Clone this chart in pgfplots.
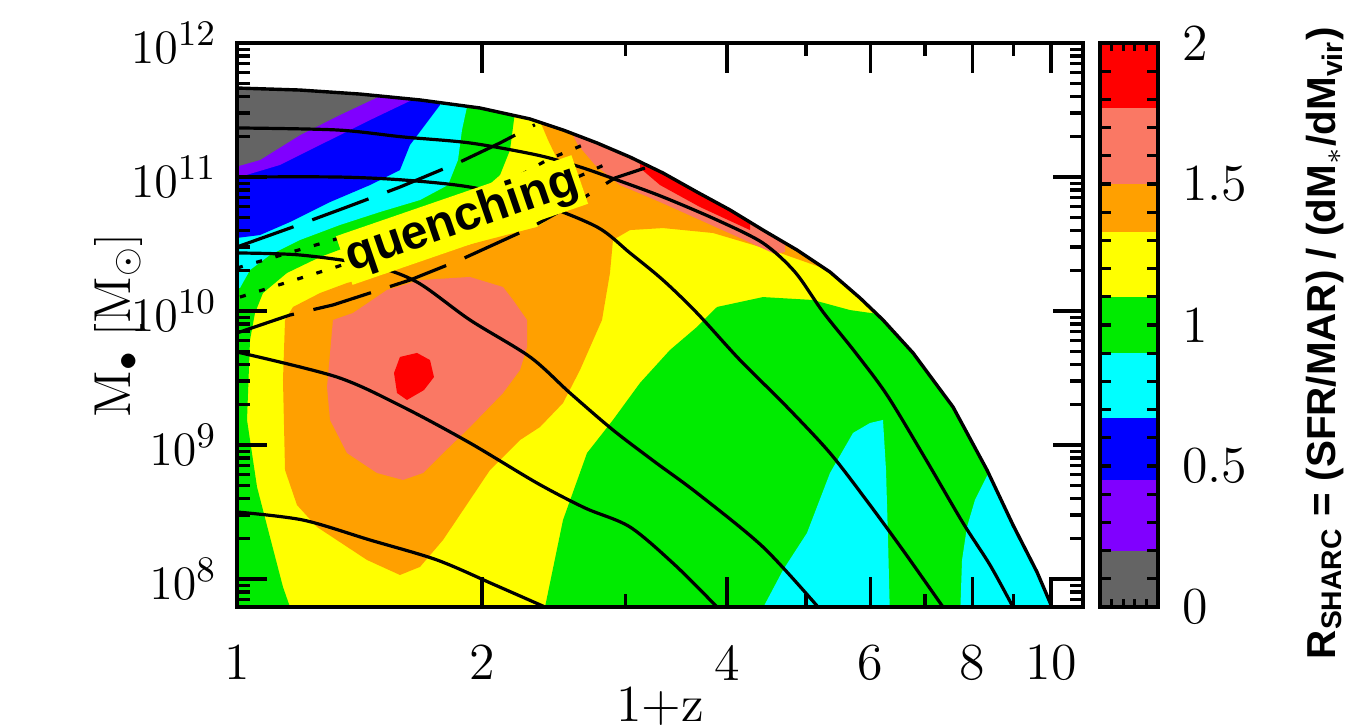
\documentclass[border=0pt]{standalone}
\usepackage{fontspec}
\usepackage{pgfplots}
\pgfplotsset{compat=1.18}
\newfontfamily\hv{Liberation Sans}
\definecolor{cgray}{RGB}{100,100,100}
\definecolor{cpurple}{RGB}{128,0,255}
\definecolor{cblue}{RGB}{0,0,255}
\definecolor{ccyan}{RGB}{0,255,255}
\definecolor{cgreen}{RGB}{0,235,0}
\definecolor{cyellow}{RGB}{255,255,0}
\definecolor{corange}{RGB}{255,160,0}
\definecolor{csalmon}{RGB}{250,120,100}
\definecolor{cred}{RGB}{255,0,0}
\pgfplotsset{region/.style={draw=none,fill=#1},
  trk/.style={black,line width=0.8pt,smooth},
  dsh/.style={black,line width=0.8pt,dash pattern=on 15pt off 5pt},
  dtt/.style={black,line width=0.8pt,dash pattern=on 1.5pt off 3.5pt}}
\begin{document}
\begin{tikzpicture}
\path[use as bounding box] (-59.25pt,-30.25pt) rectangle (281pt,151.75pt);
\begin{axis}[
  at={(0pt,0pt)}, anchor=south west,
  scale only axis, width=211.5pt, height=141pt,
  xmin=0, xmax=1.0393, ymin=7.791, ymax=12,
  axis on top,
  xtick={0,0.30103,0.60206,0.77815,0.90309,1},
  xticklabels={1,2,4,6,8,10},
  minor xtick={0.47712,0.69897,0.84510,0.95424},
  ytick={8,9,10,11,12},
  yticklabels={$10^{8}$,$10^{9}$,$10^{10}$,$10^{11}$,$10^{12}$},
  minor ytick={7.84510,7.90309,7.95424,
    8.30103,8.47712,8.60206,8.69897,8.77815,8.84510,8.90309,8.95424,
    9.30103,9.47712,9.60206,9.69897,9.77815,9.84510,9.90309,9.95424,
    10.30103,10.47712,10.60206,10.69897,10.77815,10.84510,10.90309,10.95424,
    11.30103,11.47712,11.60206,11.69897,11.77815,11.84510,11.90309,11.95424},
  tick align=inside,
  major tick length=7.5pt, minor tick length=3.25pt,
  every tick/.append style={line width=0.8pt,black},
  axis line style={line width=1pt},
  tick label style={font=\fontsize{13}{15}\selectfont},
  xticklabel style={yshift=-6pt},
  yticklabel style={xshift=-1.5pt},
  xlabel={1+z},
  xlabel style={at={(axis description cs:0.5,-0.176)},anchor=center,inner sep=0pt,font=\fontsize{13}{15}\selectfont},
  ylabel={$\mathrm{M}_{\bullet}\;[\mathrm{M}_{\odot}]$},
  ylabel style={at={(axis description cs:-0.1405,0.5)},anchor=center,font=\fontsize{13}{15}\selectfont},
]
% base
\addplot[region=cyellow] coordinates {(-0.05,7.7) (1.1,7.7) (1.1,12.1) (-0.05,12.1)} -- cycle;
% green top-left and left strip
\addplot[region=cgreen] coordinates {(-0.05,12.1) (0.3415,12.1) (0.3415,11.485) (0.3354,11.201) (0.3231,11.015) (0.2924,10.851) (0.2371,10.694) (0.1757,10.552) (0.1351,10.478) (0.1020,10.403) (0.0614,10.284) (0.0319,10.134) (0.0221,9.985) (0.0160,9.784) (0.0123,9.187) (0.0246,8.687) (0.0405,8.313) (0.0565,7.940) (0.0651,7.791) (0.0665,7.7) (-0.05,7.7)} -- cycle;
% green right
\addplot[region=cgreen] coordinates {(0.378,7.7) (0.3784,7.791) (0.4005,8.440) (0.4300,8.940) (0.4619,9.187) (0.4951,9.463) (0.5319,9.709) (0.5651,9.881) (0.5897,10.030) (0.6462,10.104) (0.7076,10.082) (0.7531,10.007) (0.7961,9.970) (1.1,9.970) (1.1,7.7)} -- cycle;
% cyan
\addplot[region=ccyan] coordinates {(-0.05,12.1) (0.2825,12.1) (0.2825,11.522) (0.2764,11.351) (0.2715,11.127) (0.2592,10.940) (0.2248,10.828) (0.1757,10.739) (0.1265,10.642) (0.0774,10.530) (0.0405,10.418) (0.0160,10.306) (0.0037,10.172) (-0.05,10.142)} -- cycle;
\addplot[region=ccyan] coordinates {(0.6388,7.7) (0.6708,8.067) (0.7002,8.343) (0.7285,8.791) (0.7568,9.090) (0.7776,9.164) (0.7936,9.187) (0.7973,8.813) (0.7998,8.291) (0.8022,7.7)} -- cycle;
\addplot[region=ccyan] coordinates {(0.8882,7.7) (0.8907,8.142) (0.8968,8.388) (0.9066,8.590) (0.9189,8.739) (0.9312,8.888) (1.1,8.888) (1.1,7.7)} -- cycle;
% blue, purple, gray
\addplot[region=cblue] coordinates {(-0.05,12.1) (0.2494,12.1) (0.2494,11.537) (0.2310,11.388) (0.2125,11.239) (0.2002,11.052) (0.1634,10.940) (0.1143,10.813) (0.0651,10.664) (0.0283,10.567) (-0.05,10.507)} -- cycle;
\addplot[region=cpurple] coordinates {(-0.05,12.1) (0.2174,12.1) (0.2174,11.582) (0.1634,11.425) (0.1020,11.239) (0.0528,11.090) (-0.05,10.903)} -- cycle;
\addplot[region=cgray] coordinates {(-0.05,12.1) (0.1757,12.1) (0.1757,11.604) (0.1265,11.463) (0.0774,11.313) (0.0283,11.127) (-0.05,10.993)} -- cycle;
% orange
\addplot[region=corange] coordinates {(0.3722,12.1) (0.7310,12.1) (0.7310,10.269) (0.7162,10.328) (0.6671,10.433) (0.6265,10.507) (0.5848,10.582) (0.5233,10.619) (0.4828,10.604) (0.4619,10.530) (0.4582,10.284) (0.4484,9.933) (0.4214,9.560) (0.4005,9.313) (0.3722,9.134) (0.3477,9.037) (0.3108,8.813) (0.2531,8.291) (0.2248,8.090) (0.2002,8.030) (0.1597,8.142) (0.0983,8.388) (0.0737,8.552) (0.0590,8.813) (0.0565,9.485) (0.0590,9.933) (0.0688,10.030) (0.1020,10.134) (0.1351,10.209) (0.1843,10.284) (0.2457,10.433) (0.3071,10.530) (0.3686,10.627) (0.3968,10.739) (0.4152,10.903) (0.3968,11.090) (0.3821,11.276) (0.3722,11.418)} -- cycle;
% salmon
\addplot[region=csalmon] coordinates {(0.4128,12.1) (0.6794,12.1) (0.6732,10.440) (0.6609,10.425) (0.6179,10.545) (0.5688,10.679) (0.5197,10.813) (0.4705,10.940) (0.4398,11.090) (0.4189,11.239) (0.4128,11.313)} -- cycle;
\addplot[region=csalmon] coordinates {(0.1179,9.933) (0.1106,9.433) (0.1143,9.187) (0.1351,8.940) (0.1720,8.791) (0.2039,8.739) (0.2285,8.791) (0.2531,8.940) (0.2862,9.134) (0.3268,9.388) (0.3477,9.560) (0.3563,9.731) (0.3563,9.933) (0.3391,10.082) (0.3268,10.179) (0.2862,10.254) (0.2248,10.231) (0.1843,10.157) (0.1425,9.985)} -- cycle;
% red
\addplot[region=cred] coordinates {(0.4951,12.1) (0.6364,12.1) (0.6302,10.604) (0.5688,10.776) (0.5197,10.940) (0.4951,11.067)} -- cycle;
\addplot[region=cred] coordinates {(0.2002,9.657) (0.2211,9.687) (0.2371,9.634) (0.2420,9.507) (0.2297,9.410) (0.2088,9.336) (0.1966,9.388) (0.1929,9.537)} -- cycle;
% white above the envelope
\addplot[region=white] coordinates {(-0.05,11.664) (0,11.664) (0.0774,11.649) (0.1511,11.619) (0.2248,11.575) (0.2985,11.515) (0.3600,11.433) (0.4005,11.351) (0.4423,11.254) (0.4828,11.149) (0.5233,11.030) (0.5651,10.888) (0.6057,10.754) (0.6462,10.604) (0.6880,10.455) (0.7285,10.291) (0.7654,10.097) (0.7936,9.933) (0.8305,9.687) (0.8796,9.284) (0.9214,8.813) (0.9533,8.403) (0.9828,8.052) (1.0012,7.791) (1.0030,7.7) (1.1,7.7) (1.1,12.1) (-0.05,12.1)} -- cycle;
% envelope
\addplot[black,line width=0.85pt] coordinates {(0,11.664) (0.0774,11.649) (0.1511,11.619) (0.2248,11.575) (0.2985,11.515) (0.3600,11.433) (0.4005,11.351) (0.4423,11.254) (0.4828,11.149) (0.5233,11.030) (0.5651,10.888) (0.6057,10.754) (0.6462,10.604) (0.6880,10.455) (0.7285,10.291) (0.7654,10.097) (0.7936,9.933) (0.8305,9.687) (0.8796,9.284) (0.9214,8.813) (0.9533,8.403) (0.9828,8.052) (1.0012,7.791)};
% tracks
\addplot[trk] coordinates {(0,11.366) (0.1229,11.351) (0.2039,11.299) (0.2862,11.254) (0.3686,11.164) (0.4214,11.075) (0.4668,10.978) (0.5233,10.851) (0.5897,10.679) (0.6462,10.507) (0.6855,10.291) (0.7199,9.993) (0.7592,9.694) (0.7985,9.373) (0.8452,8.903) (0.8919,8.418) (0.9251,8.104) (0.9533,7.791)};
\addplot[trk] coordinates {(0,11.000) (0.1229,11.000) (0.2039,10.978) (0.2862,10.925) (0.3686,10.806) (0.4423,10.627) (0.4828,10.433) (0.5233,10.231) (0.5651,9.985) (0.6179,9.634) (0.6732,9.299) (0.7285,8.940) (0.7776,8.552) (0.8206,8.194) (0.8673,7.791)};
\addplot[trk] coordinates {(0,10.433) (0.0774,10.418) (0.1634,10.343) (0.2211,10.216) (0.2862,9.933) (0.3600,9.657) (0.4091,9.388) (0.4619,9.112) (0.5135,8.873) (0.5651,8.642) (0.6462,8.239) (0.7138,7.791)};
\addplot[trk] coordinates {(0,9.694) (0.1229,9.507) (0.2039,9.284) (0.2862,9.015) (0.3686,8.716) (0.4275,8.530) (0.4828,8.388) (0.5381,8.104) (0.5897,7.791)};
\addplot[trk] coordinates {(0,8.500) (0.0811,8.440) (0.1634,8.291) (0.2457,8.142) (0.3170,7.955) (0.3784,7.791)};
% dashed and dotted lines
\addplot[dsh] coordinates {(0,9.836) (0.0651,9.970) (0.1179,10.045) (0.2125,10.231) (0.2740,10.381) (0.3600,10.619) (0.4214,10.828) (0.4644,10.993) (0.5012,11.067)};
\addplot[dsh] coordinates {(0,10.478) (0.0651,10.619) (0.1351,10.776) (0.2002,10.925) (0.2740,11.112) (0.3231,11.254) (0.3660,11.390)};
\addplot[dtt] coordinates {(0,10.321) (0.1179,10.530) (0.2285,10.731) (0.3317,10.955) (0.3808,11.127) (0.4337,11.261)};
\addplot[dtt] coordinates {(0.0037,10.104) (0.1179,10.321) (0.2248,10.530) (0.3231,10.739) (0.3968,10.940) (0.4644,11.127)};
\node[rotate=19,fill=cyellow,inner sep=0.8pt,font=\hv\bfseries\fontsize{12}{14}\selectfont] at (axis cs:0.2764,10.679) {quenching};
\end{axis}
% colour bar
\begin{axis}[
  at={(215.75pt,0pt)}, anchor=south west,
  scale only axis, width=14.5pt, height=141pt,
  xmin=0, xmax=1, ymin=0, ymax=2,
  axis on top,
  xtick={0.2,0.4,0.6,0.8}, xticklabels={},
  xtick style={/pgfplots/major tick length=2pt},
  ytick={0,0.5,1,1.5,2}, yticklabels={0,0.5,1,1.5,2},
  minor ytick={0.1,0.2,0.3,0.4,0.6,0.7,0.8,0.9,1.1,1.2,1.3,1.4,1.6,1.7,1.8,1.9},
  yticklabel pos=right, ytick pos=both,
  tick align=inside,
  major tick length=2.75pt, minor tick length=2.75pt,
  every tick/.append style={line width=0.8pt,black},
  axis line style={line width=1pt},
  tick label style={font=\fontsize{13}{15}\selectfont},
  yticklabel style={xshift=2.5pt},
]
\addplot[region=cgray] coordinates {(0,0) (1,0) (1,0.2) (0,0.2)} -- cycle;
\addplot[region=cpurple] coordinates {(0,0.2) (1,0.2) (1,0.45) (0,0.45)} -- cycle;
\addplot[region=cblue] coordinates {(0,0.45) (1,0.45) (1,0.67) (0,0.67)} -- cycle;
\addplot[region=ccyan] coordinates {(0,0.67) (1,0.67) (1,0.9) (0,0.9)} -- cycle;
\addplot[region=cgreen] coordinates {(0,0.9) (1,0.9) (1,1.1) (0,1.1)} -- cycle;
\addplot[region=cyellow] coordinates {(0,1.1) (1,1.1) (1,1.33) (0,1.33)} -- cycle;
\addplot[region=corange] coordinates {(0,1.33) (1,1.33) (1,1.5) (0,1.5)} -- cycle;
\addplot[region=csalmon] coordinates {(0,1.5) (1,1.5) (1,1.77) (0,1.77)} -- cycle;
\addplot[region=cred] coordinates {(0,1.77) (1,1.77) (1,2) (0,2)} -- cycle;
\end{axis}
\node[rotate=90,font=\hv\bfseries\fontsize{10.1}{12}\selectfont] at (272pt,66pt) {R\textsubscript{SHARC} = (SFR/MAR) / (dM\textsubscript{$\ast$}/dM\textsubscript{vir})};
\end{tikzpicture}
\end{document}
